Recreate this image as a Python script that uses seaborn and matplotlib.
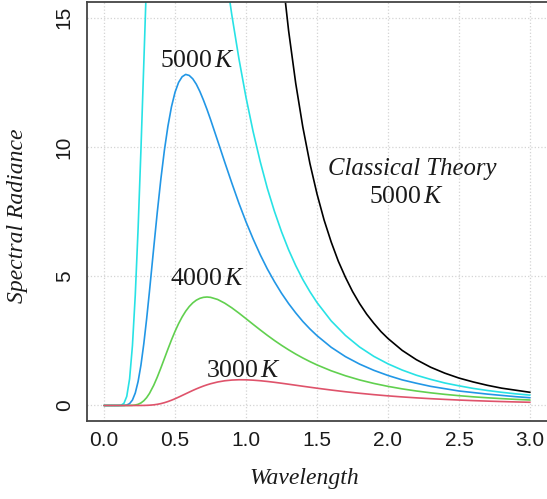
import pandas as pd
import matplotlib
matplotlib.use("Agg")
import matplotlib.pyplot as plt
import seaborn as sns

# wavelength grid (micrometres)
wavelength = [0, 0.05, 0.1, 0.12, 0.14, 0.16, 0.18, 0.2,
              0.22, 0.24, 0.26, 0.28, 0.3, 0.32, 0.35,
              0.375, 0.4, 0.425, 0.45, 0.475, 0.5,
              0.525, 0.55, 0.575, 0.6, 0.625, 0.65, 0.675, 0.7, 0.725, 0.75,
              0.8, 0.85, 0.9, 0.95, 1.0,
              1.05, 1.1, 1.15, 1.2, 1.25, 1.3, 1.35, 1.4, 1.45, 1.5,
              1.6, 1.7, 1.8, 1.9, 2.0,
              2.1, 2.2, 2.3, 2.4, 2.5, 2.6, 2.7, 2.8, 2.9, 3.0]

rad_3000 = [0, 0, 0, 0, 0, 0, 0, 0.00001,
            0.00008, 0.0003, 0.001, 0.0025, 0.0056, 0.011, 0.025,
            0.0448, 0.072, 0.108, 0.152, 0.203, 0.260,
            0.322, 0.387, 0.452, 0.517, 0.581, 0.642, 0.698, 0.751, 0.798, 0.840,
            0.908, 0.955, 0.983, 0.995, 0.992,
            0.979, 0.957, 0.929, 0.896, 0.860, 0.822, 0.783, 0.744, 0.706, 0.668,
            0.597, 0.531, 0.472, 0.419, 0.372,
            0.331, 0.295, 0.263, 0.235, 0.210, 0.188, 0.169, 0.152, 0.137, 0.124]

rad_4000 = [0, 0, 0, 0, 0.00002, 0.0002, 0.0013, 0.0058,
            0.018, 0.046, 0.098, 0.182, 0.304, 0.466, 0.781,
            1.097, 1.447, 1.813, 2.180, 2.535, 2.865,
            3.163, 3.423, 3.644, 3.825, 3.967, 4.072, 4.142, 4.181, 4.194, 4.181,
            4.099, 3.956, 3.776, 3.572, 3.356,
            3.137, 2.922, 2.713, 2.514, 2.327, 2.152, 1.988, 1.837, 1.697, 1.568,
            1.341, 1.150, 0.988, 0.853, 0.739,
            0.642, 0.560, 0.490, 0.430, 0.379, 0.335, 0.298, 0.265, 0.236, 0.212]

rad_5000 = [0, 0, 0, 0.0002, 0.0026, 0.018, 0.072, 0.210,
            0.482, 0.928, 1.564, 2.382, 3.346, 4.414, 6.096,
            7.470, 8.742, 9.862, 10.80, 11.55, 12.11,
            12.49, 12.71, 12.80, 12.76, 12.63, 12.42, 12.14, 11.81, 11.45, 11.06,
            10.24, 9.41, 8.60, 7.82, 7.10,
            6.44, 5.83, 5.28, 4.79, 4.34, 3.94, 3.58, 3.25, 2.96, 2.70,
            2.25, 1.89, 1.60, 1.36, 1.16,
            0.99, 0.86, 0.74, 0.65, 0.56, 0.50, 0.44, 0.39, 0.34, 0.30]

rad_6000 = [0, 0, 0.0005, 0.010, 0.081, 0.352, 1.03, 2.31,
            4.27, 6.85, 9.90, 13.21, 16.56, 19.77, 24.02,
            26.87, 29.05, 30.55, 31.45, 31.82, 31.75,
            31.33, 30.63, 29.73, 28.67, 27.52, 26.31, 25.07, 23.82, 22.59, 21.39,
            19.10, 16.99, 15.10, 13.41, 11.91,
            10.59, 9.43, 8.40, 7.51, 6.72, 6.02, 5.41, 4.87, 4.40, 3.98,
            3.27, 2.71, 2.26, 1.90, 1.61,
            1.37, 1.17, 1.01, 0.87, 0.76, 0.66, 0.58, 0.51, 0.45, 0.40]

# classical curve at 5000 K, only the part that shows
wl_classical = [1.2, 1.25, 1.3, 1.35, 1.4, 1.45, 1.5, 1.55, 1.6, 1.65, 1.7, 1.75,
                1.8, 1.85, 1.9, 1.95, 2.0, 2.1, 2.2, 2.3, 2.4, 2.5, 2.6, 2.7,
                2.8, 2.9, 3.0]
rad_classical = [19.96, 16.95, 14.49, 12.46, 10.77, 9.36, 8.18, 7.17, 6.32, 5.58,
                 4.96, 4.41, 3.94, 3.53, 3.18, 2.86, 2.59, 2.13, 1.77, 1.48,
                 1.25, 1.06, 0.91, 0.78, 0.67, 0.59, 0.51]

sns.set_style("white")
plt.rcParams['font.family'] = ['Liberation Sans', 'DejaVu Sans']
plt.rcParams['mathtext.fontset'] = 'custom'
plt.rcParams['mathtext.rm'] = 'Liberation Serif'
plt.rcParams['mathtext.it'] = 'Liberation Serif:italic'

fig = plt.figure(figsize=(5.47, 4.99), dpi=100)
ax = fig.add_axes([87 / 547, 1 - 421 / 499, 1 - 87 / 547, 419 / 499])

lw = 1.2
sns.lineplot(x=wavelength, y=rad_6000, color="#28E2E5", lw=lw, ax=ax)
sns.lineplot(x=wavelength, y=rad_5000, color="#2297E6", lw=lw, ax=ax)
sns.lineplot(x=wavelength, y=rad_4000, color="#61D04F", lw=lw, ax=ax)
sns.lineplot(x=wavelength, y=rad_3000, color="#DF536B", lw=lw, ax=ax)
sns.lineplot(x=wl_classical, y=rad_classical, color="black", lw=lw, ax=ax)

ax.set_xlim(-0.12, 3.12)
ax.set_ylim(-0.6, 15.6)
ax.set_xticks([0, 0.5, 1.0, 1.5, 2.0, 2.5, 3.0])
ax.set_xticklabels(["0.0", "0.5", "1.0", "1.5", "2.0", "2.5", "3.0"])
ax.set_yticks([0, 5, 10, 15])
ax.grid(True, color="#d4d4d4", linestyle=":", lw=0.9)

for s in ["left", "bottom", "top"]:
    ax.spines[s].set_color("#444444")
    ax.spines[s].set_linewidth(1.3)
ax.spines["right"].set_visible(False)

ax.tick_params(axis="both", direction="out", length=4.5, width=1.0, color="#444444",
               labelsize=15, labelcolor="#1a1a1a")
ax.tick_params(axis="x", pad=3)
ax.tick_params(axis="y", pad=5)
for lab in ax.get_yticklabels():
    lab.set_rotation(90)
    lab.set_va("center")

serif = ['Liberation Serif', 'DejaVu Serif']
ax.set_xlabel("Wavelength", family=serif, style="italic", fontsize=17, color="#1a1a1a")
ax.xaxis.set_label_coords(0.472, -0.112)
ax.set_ylabel("Spectral Radiance", family=serif, style="italic", fontsize=17, color="#1a1a1a")
ax.yaxis.set_label_coords(-0.128, 0.49)

tk = dict(family=serif, ha="center", va="center", color="#1a1a1a")
ax.text(0.655, 13.3, "5000$\\,K$", fontsize=18.5, **tk)
ax.text(0.725, 4.9, "4000$\\,K$", fontsize=18.5, **tk)
ax.text(0.985, 1.35, "3000$\\,K$", fontsize=18.5, **tk)
ax.text(2.17, 9.15, "Classical Theory", style="italic", fontsize=17.8, **tk)
ax.text(2.13, 8.05, "5000$\\,K$", fontsize=18.5, **tk)

plt.savefig("out.png", dpi=100)
